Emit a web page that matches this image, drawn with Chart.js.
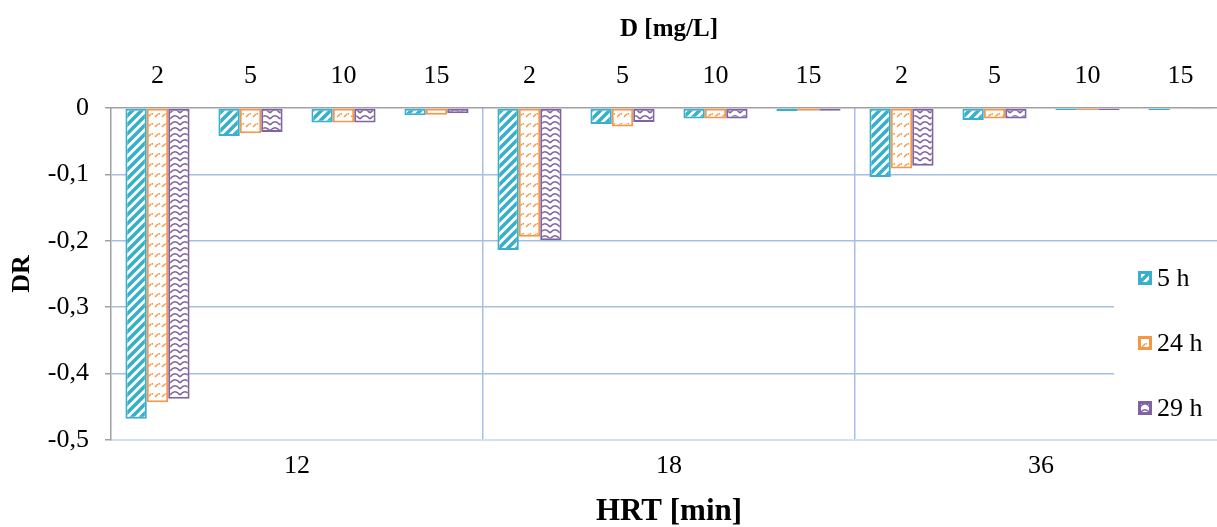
<!DOCTYPE html>
<html lang="pt">
<head>
    <meta charset="UTF-8">
    <title>DR vs HRT</title>
    <script src="https://cdn.jsdelivr.net/npm/chart.js"></script>
    <style>
        html, body {
            margin: 0;
            padding: 0;
            background: #ffffff;
            overflow: hidden;
        }
        .chart-box {
            position: relative;
            width: 1227px;
            height: 527px;
        }
    </style>
</head>
<body>
    <div class="chart-box">
        <canvas id="drChart"></canvas>
    </div>
    <script>
        // HRT groups (bottom axis) and concentrations D (top axis)
        const hrtLabels = ['12', '18', '36'];
        const dLabels = ['2', '5', '10', '15'];
        const seriesNames = ['5 h', '24 h', '29 h'];

        // DR values, one entry per (HRT, D) pair
        const dr5h  = [-0.468, -0.042, -0.022, -0.011, -0.214, -0.024, -0.016, -0.005, -0.104, -0.018, -0.003, -0.003];
        const dr24h = [-0.443, -0.038, -0.022, -0.010, -0.194, -0.028, -0.016, -0.004, -0.091, -0.016, -0.003, -0.002];
        const dr29h = [-0.438, -0.036, -0.022, -0.008, -0.199, -0.021, -0.016, -0.004, -0.087, -0.016, -0.003, -0.002];

        const TEAL = '#3aafcb';
        const ORANGE = '#f79646';
        const PURPLE = '#8064a2';
        const GRID = '#a7bee3';
        const AXIS = '#a0a0a0';
        const FONT = "'Liberation Serif', 'Times New Roman', serif";

        const categories = [];
        hrtLabels.forEach(() => dLabels.forEach(d => categories.push(d)));

        // pattern fills, drawn on small tiles
        function makeTile(w, h, draw) {
            const c = document.createElement('canvas');
            c.width = w;
            c.height = h;
            const g = c.getContext('2d');
            g.fillStyle = '#ffffff';
            g.fillRect(0, 0, w, h);
            draw(g);
            return document.createElement('canvas').getContext('2d').createPattern(c, 'repeat');
        }

        const stripes = makeTile(9, 9, g => {
            g.strokeStyle = TEAL;
            g.lineWidth = 3.6;
            g.beginPath();
            g.moveTo(-2, 11); g.lineTo(11, -2);
            g.moveTo(-2, 2); g.lineTo(2, -2);
            g.moveTo(7, 11); g.lineTo(11, 7);
            g.stroke();
        });

        const dashes = makeTile(7, 10, g => {
            g.strokeStyle = ORANGE;
            g.lineWidth = 1.4;
            g.beginPath();
            g.moveTo(1, 7); g.lineTo(4, 4);
            g.stroke();
            g.fillStyle = ORANGE;
            g.fillRect(4.5, 3, 1.6, 1.6);
        });

        const waves = makeTile(10, 6, g => {
            g.strokeStyle = PURPLE;
            g.lineWidth = 1.7;
            g.beginPath();
            g.moveTo(0, 5);
            g.quadraticCurveTo(5, -1.5, 10, 5);
            g.stroke();
        });

        const fills = [stripes, dashes, waves];
        const borders = [TEAL, ORANGE, PURPLE];

        function fmt(v) {
            if (Math.abs(v) < 1e-9) return '0';
            return v.toFixed(1).replace('.', ',');
        }

        // legend drawn inside the plot, on a white panel
        const innerLegend = {
            id: 'innerLegend',
            afterDraw(chart) {
                const ctx = chart.ctx;
                const area = chart.chartArea;
                const y = chart.scales.y;
                ctx.save();
                ctx.fillStyle = '#ffffff';
                const top = y.getPixelForValue(-0.21);
                ctx.fillRect(area.right - 113, top, 113, y.getPixelForValue(-0.49) - top);
                const rows = [278, 343, 408];
                chart.data.datasets.forEach((ds, i) => {
                    const bx = area.right - 89;
                    const by = rows[i] - 7;
                    ctx.fillStyle = ds.borderColor;
                    ctx.fillRect(bx, by, 14, 14);
                    ctx.fillStyle = '#ffffff';
                    ctx.fillRect(bx + 3, by + 3, 8, 8);
                    ctx.fillStyle = ds.backgroundColor;
                    ctx.fillRect(bx + 3, by + 3, 8, 8);
                    ctx.fillStyle = '#000000';
                    ctx.font = '26px ' + FONT;
                    ctx.textBaseline = 'middle';
                    ctx.textAlign = 'left';
                    ctx.fillText(ds.label, bx + 19, rows[i] + 1);
                });
                ctx.restore();
            }
        };

        new Chart(document.getElementById('drChart').getContext('2d'), {
            type: 'bar',
            data: {
                labels: categories,
                datasets: [dr5h, dr24h, dr29h].map((values, i) => ({
                    label: seriesNames[i],
                    data: values,
                    backgroundColor: fills[i],
                    borderColor: borders[i],
                    borderWidth: 2,
                    borderSkipped: false,
                    categoryPercentage: 0.69,
                    barPercentage: 1.0,
                    xAxisID: 'x'
                }))
            },
            options: {
                responsive: true,
                maintainAspectRatio: false,
                animation: false,
                layout: { padding: 0 },
                plugins: {
                    legend: { display: false },
                    tooltip: { enabled: false }
                },
                scales: {
                    x: {
                        position: 'top',
                        offset: true,
                        grid: { display: false, drawTicks: false },
                        border: { display: true, color: AXIS, width: 1.5 },
                        ticks: {
                            color: '#000',
                            padding: 16,
                            maxRotation: 0,
                            autoSkip: false,
                            font: { family: FONT, size: 26 }
                        },
                        title: {
                            display: true,
                            text: 'D [mg/L]',
                            color: '#000',
                            padding: { top: 17, bottom: 0 },
                            font: { family: FONT, size: 25, weight: 'bold', lineHeight: 1 }
                        },
                        afterFit: s => { s.height = 108; }
                    },
                    x2: {
                        type: 'category',
                        labels: hrtLabels,
                        position: 'bottom',
                        offset: true,
                        grid: {
                            offset: true,
                            drawTicks: false,
                            lineWidth: 1.5,
                            color: c => c.index === 0 ? 'rgba(0,0,0,0)' : GRID
                        },
                        border: { display: true, color: '#d5dff0', width: 2 },
                        ticks: {
                            color: '#000',
                            padding: 11,
                            maxRotation: 0,
                            font: { family: FONT, size: 26 }
                        },
                        title: {
                            display: true,
                            text: 'HRT [min]',
                            color: '#000',
                            padding: { top: 0, bottom: 0 },
                            font: { family: FONT, size: 31, weight: 'bold', lineHeight: 1 }
                        },
                        afterFit: s => { s.height = 87; }
                    },
                    y: {
                        min: -0.5,
                        max: 0,
                        grid: {
                            lineWidth: 1.5,
                            tickLength: 6,
                            tickColor: AXIS,
                            color: c => {
                                if (Math.abs(c.tick.value) < 1e-9) return 'rgba(0,0,0,0)';
                                if (Math.abs(c.tick.value + 0.5) < 1e-9) return '#d5dff0';
                                return GRID;
                            }
                        },
                        border: { display: true, color: AXIS, width: 1.5 },
                        ticks: {
                            stepSize: 0.1,
                            color: '#000',
                            padding: 16,
                            font: { family: FONT, size: 26 },
                            callback: v => fmt(v)
                        },
                        title: {
                            display: true,
                            text: 'DR',
                            color: '#000',
                            padding: { top: 9, bottom: 0 },
                            font: { family: FONT, size: 26, weight: 'bold', lineHeight: 1 }
                        },
                        afterFit: s => { s.width = 111; }
                    }
                }
            },
            plugins: [innerLegend]
        });
    </script>
</body>
</html>
